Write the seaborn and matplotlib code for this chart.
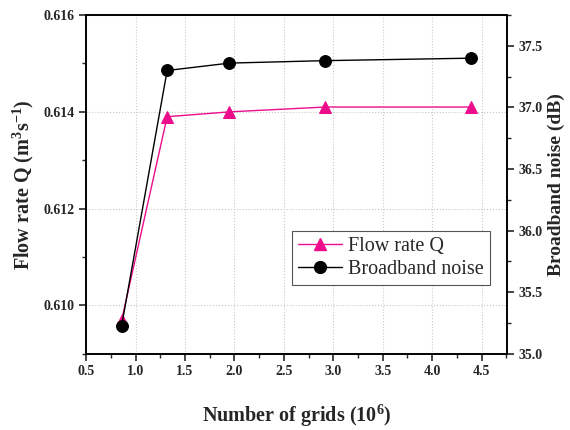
import matplotlib
matplotlib.use("Agg")
import matplotlib.pyplot as plt
import seaborn as sns
import pandas as pd
from matplotlib.ticker import MultipleLocator
from matplotlib.lines import Line2D

grids = [0.86, 1.32, 1.95, 2.92, 4.39]
flow_rate = [0.6097, 0.6139, 0.6140, 0.6141, 0.6141]
noise = [35.23, 37.30, 37.36, 37.38, 37.40]

sns.set_theme(style="ticks")
plt.rcParams['font.family'] = ['Liberation Serif', 'DejaVu Serif']
plt.rcParams['font.weight'] = 'bold'
plt.rcParams['mathtext.fontset'] = 'custom'
plt.rcParams['mathtext.rm'] = 'Liberation Serif:bold'
plt.rcParams['mathtext.bf'] = 'Liberation Serif:bold'
plt.rcParams['mathtext.default'] = 'bf'

df = pd.DataFrame({"grids": grids, "flow": flow_rate, "noise": noise})

fig = plt.figure(figsize=(5.7, 4.3), dpi=100)
ax = fig.add_axes([0.151, 0.177, 0.739, 0.788])
ax2 = ax.twinx()

pink = '#EC0C8C'
sns.lineplot(data=df, x="grids", y="flow", ax=ax, color=pink, marker='^',
             markersize=8.5, markeredgecolor=pink, linewidth=1.0, zorder=3)
sns.lineplot(data=df, x="grids", y="noise", ax=ax2, color='black', marker='o',
             markersize=8.5, markeredgecolor='black', linewidth=1.0, zorder=3)

ax.xaxis.set_major_locator(MultipleLocator(0.5))
ax.xaxis.set_minor_locator(MultipleLocator(0.25))
ax.yaxis.set_major_locator(MultipleLocator(0.002))
ax.yaxis.set_minor_locator(MultipleLocator(0.001))
ax2.yaxis.set_major_locator(MultipleLocator(0.5))
ax2.yaxis.set_minor_locator(MultipleLocator(0.25))

ax.set_xlim(0.5, 4.76)
ax.set_ylim(0.609, 0.616)
ax2.set_ylim(35.0, 37.75)

ax.xaxis.set_major_formatter(plt.FuncFormatter(lambda v, p: f"{v:.1f}"))
ax.yaxis.set_major_formatter(plt.FuncFormatter(lambda v, p: f"{v:.3f}"))
ax2.yaxis.set_major_formatter(plt.FuncFormatter(lambda v, p: f"{v:.1f}"))

ax.grid(True, which='major', linestyle=':', color='#c8c8c8', linewidth=0.8)

for a in (ax, ax2):
    for s in a.spines.values():
        s.set_linewidth(1.2)
        s.set_color('black')
    a.tick_params(which='major', direction='out', length=5, width=1.2,
                  labelsize=10, pad=3)
    a.tick_params(which='minor', direction='out', length=3, width=1.0)

ax.tick_params(axis='y', right=False)
ax2.tick_params(axis='y', left=False)

ax.set_xlabel("Number of grids (10$^{6}$)", fontsize=14.5, fontweight='bold', labelpad=18)
ax.set_ylabel("Flow rate Q (m$^{3}$s$^{-1}$)", fontsize=14.5, fontweight='bold', labelpad=6)
ax2.set_ylabel("Broadband noise (dB)", fontsize=14, fontweight='bold', labelpad=4)

handles = [Line2D([], [], color=pink, marker='^', markersize=8.5, linewidth=1.0),
           Line2D([], [], color='black', marker='o', markersize=8.5, linewidth=1.0)]
leg = ax.legend(handles, ["Flow rate Q", "Broadband noise"], loc='upper left',
                bbox_to_anchor=(0.488, 0.364), frameon=True,
                prop={'family': 'Liberation Serif', 'weight': 'normal', 'size': 14.5},
                fancybox=False, edgecolor='#555555', framealpha=1,
                handlelength=2.2, borderpad=0.3, labelspacing=0.2,
                handletextpad=0.3, borderaxespad=0)
leg.get_frame().set_linewidth(0.8)

fig.savefig("out.png", dpi=100)
